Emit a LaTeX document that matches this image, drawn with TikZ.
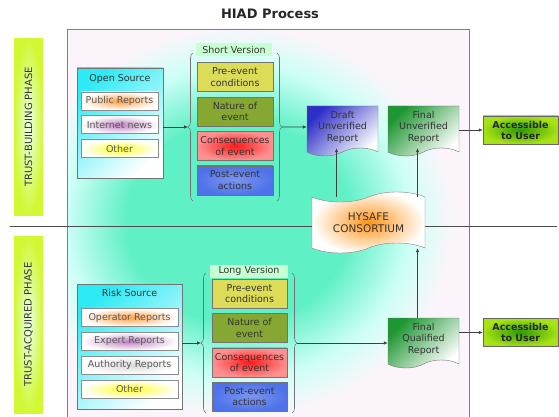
\documentclass[tikz,border=0pt]{standalone}
\usepackage{fontspec}
\setmainfont{DejaVu Sans}
\usetikzlibrary{positioning,shapes.symbols,decorations.pathreplacing,arrows.meta}

\definecolor{phasegreen}{HTML}{D2F834}
\definecolor{phaseglow}{HTML}{E8FFE8}
\definecolor{panelbg}{HTML}{FBF5FB}
\definecolor{glowaqua}{HTML}{60F0C6}
\definecolor{glowcyan}{HTML}{CCFFF6}
\definecolor{srccyan}{HTML}{2EEAF5}
\definecolor{labelgreen}{HTML}{C8FFD2}
\definecolor{precolor}{HTML}{DCDC58}
\definecolor{naturecolor}{HTML}{86A832}
\definecolor{conscolor}{HTML}{FF9090}
\definecolor{postcolor}{HTML}{4F72EA}
\definecolor{draftblue}{HTML}{2F2FC8}
\definecolor{reportgreen}{HTML}{1E9632}
\definecolor{accgreen}{HTML}{A6E214}
\definecolor{accdark}{HTML}{2E9A08}
\definecolor{hysafeorange}{HTML}{FF9418}

\pgfdeclareradialshading{panelglow}{\pgfpoint{0bp}{0bp}}{%
  color(0bp)=(glowaqua); color(13bp)=(glowaqua); color(20bp)=(glowcyan); color(25bp)=(panelbg); color(50bp)=(panelbg)}

\tikzset{
  txt/.style={font=\fontsize{9.5}{11.5}\selectfont, text=black!80, align=center, inner sep=1pt},
  phase/.style={txt, font=\fontsize{10}{12}\selectfont, rotate=90, inner color=phaseglow, outer color=phasegreen, minimum height=29pt},
  srcbox/.style={draw=black!55, line width=0.7pt, top color=srccyan, bottom color=white, shading angle=40},
  item/.style={txt, text=black!65, draw=black!45, line width=0.9pt, minimum width=#1, minimum height=18pt},
  evbox/.style={txt, draw=black!55, minimum width=76pt, minimum height=29pt},
  verlabel/.style={txt, fill=labelgreen, minimum height=13pt, inner sep=0pt},
  report/.style={txt, tape, tape bend top=none, tape bend bottom=in and out, tape bend height=8pt,
    draw=black!55, minimum width=71pt, minimum height=50pt, top color=#1, bottom color=white, shading angle=45},
  access/.style={txt, font=\bfseries\fontsize{9.5}{11}\selectfont, text=black!85, draw=black!60,
    inner color=accdark, outer color=accgreen, minimum width=75pt, minimum height=28pt},
  curly/.style={decorate, decoration={brace, amplitude=5pt}, draw=black!55, line width=0.6pt},
  flow/.style={draw=black!75, line width=0.6pt, -{Latex[length=4pt,width=3.5pt]}}
}

\begin{document}
\begin{tikzpicture}[x=1pt, y=-1pt]
  \useasboundingbox (0,0) rectangle (559,417);

  % panel
  \fill[panelbg] (67,29) rectangle (469,417);
  \begin{scope}
    \clip (67,29) rectangle (469,417);
    \shade[shading=panelglow] (238,222) ellipse [x radius=215pt, y radius=195pt];
  \end{scope}
  \draw[black!50, line width=0.8pt] (67,417) -- (67,29) -- (469,29) -- (469,417);
  \draw[black!70, line width=0.6pt] (10,226) -- (557,226);

  \node[font=\bfseries\fontsize{13}{15}\selectfont, text=black!85] (title) at (270,14) {HIAD Process};

  \node[phase, minimum width=176pt] (tbphase) at (28.5,127) {TRUST-BUILDING PHASE};
  \node[phase, minimum width=177pt] (taphase) at (28.5,324.5) {TRUST-ACQUIRED PHASE};

  % sources
  \node[srcbox, minimum width=86pt, minimum height=110pt] (opensrc) at (120,123) {};
  \node[txt] (opentitle) at (120,79) {Open Source};
  \node[item=77pt, inner color=orange!75, outer color=white] (pubrep) at (119.5,101) {Public Reports};
  \node[item=77pt, inner color=violet!50, outer color=white, below=5pt of pubrep] (inews) {Internet news};
  \node[item=77pt, inner color=yellow!85, outer color=white, below=5pt of inews] (other1) {Other};

  \node[srcbox, minimum width=105pt, minimum height=125pt] (risksrc) at (129.5,346.5) {};
  \node[txt] (risktitle) at (129.5,293) {Risk Source};
  \node[item=97pt, inner color=orange!75, outer color=white] (oprep) at (129.5,317.5) {Operator Reports};
  \node[item=97pt, inner color=violet!50, outer color=white, below=5pt of oprep] (exprep) {Expert Reports};
  \node[item=97pt, inner color=black!15, outer color=white, below=5pt of exprep] (authrep) {Authority Reports};
  \node[item=97pt, inner color=yellow!85, outer color=white, below=5pt of authrep] (other2) {Other};

  % short version
  \node[verlabel, minimum width=76pt] (shortlbl) at (234,50) {Short Version};
  \node[evbox, fill=precolor] (spre) at (235,77) {Pre-event\\conditions};
  \node[evbox, fill=naturecolor, below=5pt of spre] (snature) {Nature of\\event};
  \node[evbox, inner color=red!90, outer color=conscolor, below=5pt of snature] (scons) {Consequences\\of event};
  \node[evbox, inner color=postcolor!75!white, outer color=postcolor, below=5pt of scons] (spost) {Post-event\\actions};
  \draw[curly] (193,201) -- (193,53);
  \draw[curly] (277,53) -- (277,201);
  \coordinate (sbl) at (188,127);
  \coordinate (sbr) at (282,127);

  % long version
  \node[verlabel, minimum width=78pt] (longlbl) at (249,271) {Long Version};
  \node[evbox, minimum width=75pt, fill=precolor] (lpre) at (249.5,293.5) {Pre-event\\conditions};
  \node[evbox, minimum width=75pt, fill=naturecolor, below=5pt of lpre] (lnature) {Nature of\\event};
  \node[evbox, minimum width=75pt, inner color=red!90, outer color=conscolor, below=5pt of lnature] (lcons) {Consequences\\of event};
  \node[evbox, minimum width=75pt, inner color=postcolor!75!white, outer color=postcolor, below=5pt of lcons] (lpost) {Post-event\\actions};
  \draw[curly] (206,413) -- (206,273);
  \draw[curly] (292,273) -- (292,413);
  \coordinate (lbl) at (201,343);
  \coordinate (lbr) at (297,343);

  % reports
  \node[report=draftblue] (draft) at (342.5,127) {Draft\\Unverified\\Report};
  \node[report=reportgreen] (finunv) at (423.5,127) {Final\\Unverified\\Report};
  \node[report=reportgreen] (finq) at (423.5,339) {Final\\Qualified\\Report};
  \node[txt, font=\fontsize{10.5}{12.5}\selectfont, tape, tape bend height=10pt, draw=black!50,
    inner color=hysafeorange, outer color=white, minimum width=113pt, minimum height=61pt] (hysafe) at (368.5,222.5) {HYSAFE\\CONSORTIUM};

  \node[access] (acc1) at (520.5,130) {Accessible\\to User};
  \node[access] (acc2) at (520.5,332.5) {Accessible\\to User};

  % connectors
  \draw[flow] (opensrc.east |- sbl) -- (sbl);
  \draw[flow] (sbr) -- (draft);
  \draw[flow] (finunv.east |- acc1) -- (acc1);
  \draw[flow] (risksrc.east |- lbl) -- (lbl);
  \draw[flow] (lbr) -- (finq.west |- lbr);
  \draw[flow] (finq.east |- acc2) -- (acc2);
  \draw[flow] ([xshift=-6pt]draft.south |- hysafe.north) -- ([xshift=-6pt]draft.south);
  \draw[flow] ([xshift=-6pt]finunv.south |- hysafe.north) -- ([xshift=-6pt]finunv.south);
  \draw[flow] ([xshift=-6pt]finq.north) -- ([xshift=-6pt]finq.north |- hysafe.south);
\end{tikzpicture}
\end{document}
